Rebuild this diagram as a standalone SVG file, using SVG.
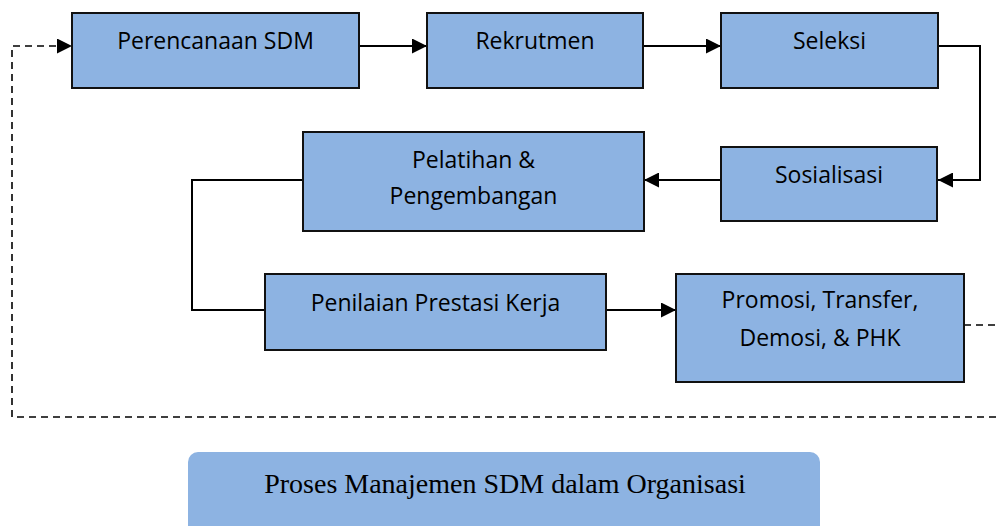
<svg xmlns="http://www.w3.org/2000/svg" width="996" height="526" viewBox="0 0 996 526">
<defs>
<style>
.box{fill:#8DB3E2;stroke:#111;stroke-width:2}
.t{font-family:"Open Sans","Noto Sans","Liberation Sans",sans-serif;font-size:23px;fill:#000;text-anchor:middle}
.c{fill:none;stroke:#000;stroke-width:2}
.d{fill:none;stroke:#000;stroke-width:1.6;stroke-dasharray:7,5}
.cap{font-family:"Liberation Serif",serif;font-size:28px;fill:#000;text-anchor:middle}
</style>
<marker id="ah" viewBox="0 0 10 10" refX="10" refY="5" markerWidth="16" markerHeight="15" markerUnits="userSpaceOnUse" orient="auto">
<path d="M0,0 L10,5 L0,10 Z" fill="#000"/>
</marker>
</defs>
<rect width="996" height="526" fill="#fff"/>
<g id="connectors">
<line class="c" x1="359" y1="46" x2="427" y2="46" marker-end="url(#ah)"/>
<line class="c" x1="643" y1="46" x2="721" y2="46" marker-end="url(#ah)"/>
<polyline class="c" points="938,46 980,46 980,180 938,180" marker-end="url(#ah)"/>
<line class="c" x1="721" y1="180" x2="644" y2="180" marker-end="url(#ah)"/>
<polyline class="c" points="303,180 192,180 192,310 265,310"/>
<line class="c" x1="606" y1="310" x2="676" y2="310" marker-end="url(#ah)"/>
<line class="d" x1="964" y1="325" x2="996" y2="325"/>
<polyline class="d" points="996,417 12,417 12,46 72,46" marker-end="url(#ah)"/>
</g>
<g id="n1"><rect class="box" x="72" y="13" width="287" height="75"/><text class="t" x="215.5" y="49">Perencanaan SDM</text></g>
<g id="n2"><rect class="box" x="427" y="13" width="216" height="75"/><text class="t" x="535" y="49">Rekrutmen</text></g>
<g id="n3"><rect class="box" x="721" y="13" width="217" height="75"/><text class="t" x="829.5" y="49">Seleksi</text></g>
<g id="n4"><rect class="box" x="721" y="147" width="216" height="74"/><text class="t" x="829" y="183">Sosialisasi</text></g>
<g id="n5"><rect class="box" x="303" y="132" width="341" height="99"/><text class="t" x="473.5" y="168">Pelatihan &amp;</text><text class="t" x="473.5" y="204">Pengembangan</text></g>
<g id="n6"><rect class="box" x="265" y="274" width="341" height="76"/><text class="t" x="435.5" y="311">Penilaian Prestasi Kerja</text></g>
<g id="n7"><rect class="box" x="676" y="274" width="288" height="108"/><text class="t" x="820" y="308">Promosi, Transfer,</text><text class="t" x="820" y="346">Demosi, &amp; PHK</text></g>
<g id="caption"><rect x="188" y="452" width="632" height="90" rx="10" fill="#8DB3E2"/><text class="cap" x="505" y="493">Proses Manajemen SDM dalam Organisasi</text></g>
</svg>
